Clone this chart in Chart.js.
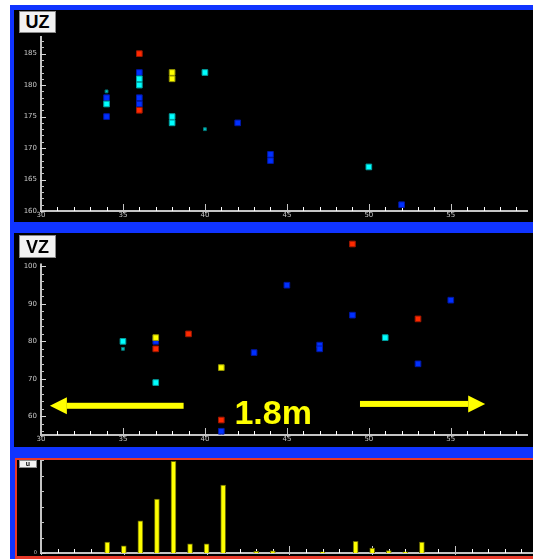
<!DOCTYPE html>
<html>
<head>
<meta charset="utf-8">
<script src="https://cdn.jsdelivr.net/npm/chart.js@4"></script>
<style>
  body { margin: 0; background: #fff; overflow: hidden; width: 533px; height: 559px; position: relative; }
  .frame { position: absolute; left: 10px; top: 5px; width: 530px; height: 560px; background: #1034ff; }
  .panel { position: absolute; background: #000; }
  .panel canvas { position: absolute; left: 0; top: 0; }
  .tag { position: absolute; background: #f2f2f2; border: 1px solid #8a8a8a; box-sizing: border-box;
         font: bold 18px "Liberation Sans", Arial, sans-serif; color: #000; text-align: center; z-index: 2; }
  .boxed { position: absolute; left: 15px; top: 458px; width: 530px; height: 101px; border: 2px solid #e8392a;
           border-bottom-width: 3px; box-sizing: border-box; background: #000; }
</style>
</head>
<body>
<div class="frame"></div>
<div class="panel" style="left:14px;top:10px;width:519px;height:212px">
  <canvas id="uzChart" width="519" height="212"></canvas>
  <div class="tag" style="left:5px;top:1px;width:37px;height:22px;line-height:21px">UZ</div>
</div>
<div class="panel" style="left:14px;top:233px;width:519px;height:214px">
  <canvas id="vzChart" width="519" height="214"></canvas>
  <div class="tag" style="left:5px;top:2px;width:37px;height:23px;line-height:22px">VZ</div>
</div>
<div class="boxed">
  <div class="panel" style="left:0;top:0;width:516px;height:96px">
    <canvas id="uChart" width="516" height="96"></canvas>
    <div class="tag" style="left:2px;top:0;width:18px;height:8px;font-size:7px;line-height:6px">u</div>
  </div>
</div>
<script>
// UZ panel, one list per marker colour
const uzBlueX = [34, 34, 36, 36, 36, 42, 44, 44, 52];
const uzBlueY = [178, 175, 182, 178, 177, 174, 169, 168, 161];
const uzCyanX = [34, 36, 36, 38, 38, 40, 50];
const uzCyanY = [177, 181, 180, 175, 174, 182, 167];
const uzYellowX = [38, 38];
const uzYellowY = [182, 181];
const uzRedX = [36, 36];
const uzRedY = [185, 176];
const uzTealX = [34, 40];
const uzTealY = [179, 173];

// VZ panel
const vzBlueX = [37, 41, 43, 45, 47, 47, 49, 53, 55];
const vzBlueY = [80, 56, 77, 95, 79, 78, 87, 74, 91];
const vzCyanX = [35, 37, 51];
const vzCyanY = [80, 69, 81];
const vzYellowX = [37, 41];
const vzYellowY = [81, 73];
const vzRedX = [37, 39, 41, 49, 53];
const vzRedY = [78, 82, 59, 106, 86];
const vzTealX = [35];
const vzTealY = [78];

// bottom histogram
const barX = [34, 35, 36, 37, 38, 39, 40, 41, 43, 44, 47, 49, 50, 51, 52, 53];
const barY = [35, 23, 103, 173, 294, 29, 29, 218, 5, 7, 4, 37, 16, 8, 4, 35];

// scale ranges (axisTop = where the drawn axis line stops)
const xMin = 30, xMax = 59.71;
const uzMin = 160, uzMax = 187.8, uzAxisTop = 187.8;
const vzMin = 55, vzMax = 107.6, vzAxisTop = 100.8;
const uMin = 0, uMax = 298, uAxisTop = 298;

// distance marker on VZ
const markerText = '1.8m';

Chart.defaults.font.family = '"DejaVu Sans", sans-serif';
Chart.defaults.animation = false;

const pts = (xs, ys) => xs.map((v, i) => ({ x: v, y: ys[i] }));

const axisPlugin = {
  id: 'axes',
  beforeDatasetsDraw(chart, args, opts) {
    const { ctx, chartArea: a, scales: { x, y } } = chart;
    const top = y.getPixelForValue(opts.top);
    ctx.save();
    ctx.strokeStyle = '#c4c4c4';
    ctx.lineWidth = 2;
    ctx.beginPath();
    ctx.moveTo(a.left, top);
    ctx.lineTo(a.left, a.bottom);
    ctx.lineTo(a.right, a.bottom);
    ctx.stroke();
    ctx.lineWidth = 1;
    x.ticks.forEach(t => {
      const px = Math.round(x.getPixelForValue(t.value)) + 0.5;
      const major = t.value % opts.xMajor === 0;
      ctx.strokeStyle = major ? '#c4c4c4' : '#ffffff';
      ctx.beginPath();
      ctx.moveTo(px, a.bottom - (major ? 7 : 4));
      ctx.lineTo(px, a.bottom + (major ? 2 : 0));
      ctx.stroke();
    });
    y.ticks.forEach(t => {
      if (t.value > opts.top) return;
      const py = Math.round(y.getPixelForValue(t.value)) + 0.5;
      const major = t.value % opts.yMajor === 0;
      ctx.strokeStyle = major ? '#d8d8d8' : '#c4c4c4';
      ctx.beginPath();
      ctx.moveTo(a.left - (major ? 1 : 0), py);
      ctx.lineTo(a.left + (major ? opts.majorLen : 3), py);
      ctx.stroke();
    });
    ctx.restore();
  }
};

const markerPlugin = {
  id: 'marker',
  afterDatasetsDraw(chart) {
    const { ctx, scales: { x, y } } = chart;
    ctx.save();
    ctx.fillStyle = '#ffff00';
    const arrow = (fromV, toV, yV) => {
      const x0 = x.getPixelForValue(fromV), x1 = x.getPixelForValue(toV), py = y.getPixelForValue(yV);
      const dir = Math.sign(x1 - x0);
      const hx = x1 - dir * 17;
      ctx.fillRect(Math.min(x0, hx), py - 3, Math.abs(hx - x0), 6);
      ctx.beginPath();
      ctx.moveTo(x1, py);
      ctx.lineTo(hx, py - 8.5);
      ctx.lineTo(hx, py + 8.5);
      ctx.closePath();
      ctx.fill();
    };
    arrow(38.7, 30.54, 62.8);
    arrow(49.46, 57.1, 63.3);
    ctx.font = 'bold 34px "Liberation Sans", Arial, sans-serif';
    ctx.textBaseline = 'alphabetic';
    ctx.fillText(markerText, x.getPixelForValue(41.8), y.getPixelForValue(58));
    ctx.restore();
  }
};

function xAxis(height, showLabels) {
  return {
    type: 'linear', min: xMin, max: xMax, offset: false,
    grid: { display: false, drawTicks: false }, border: { display: false },
    ticks: { stepSize: 1, includeBounds: false, autoSkip: false, maxRotation: 0, padding: 0,
             display: showLabels, color: '#c8c8c8', font: { size: 7 },
             callback: v => (v % 5 === 0 ? v : '') },
    afterFit: s => { s.height = height; s.paddingLeft = 0; s.paddingRight = 0; }
  };
}

function yAxis(min, max, top, step, major, width, fontSize) {
  return {
    type: 'linear', min: min, max: max,
    grid: { display: false, drawTicks: false }, border: { display: false },
    ticks: { stepSize: step, includeBounds: false, autoSkip: false, padding: 4,
             color: '#c8c8c8', font: { size: fontSize },
             callback: v => (v % major === 0 && v <= top ? v : '') },
    afterFit: s => { s.width = width; s.paddingTop = 0; s.paddingBottom = 0; }
  };
}

function dot(label, xs, ys, fill, edge, r) {
  return { label, data: pts(xs, ys), backgroundColor: fill, borderColor: edge, borderWidth: 1,
           pointStyle: 'rect', pointRadius: r, clip: false };
}

function scatterOpts(yScale, xHeight, padTop, yMajor, top) {
  return {
    responsive: false,
    layout: { padding: { top: padTop, right: 0, left: 0, bottom: 0 } },
    scales: { x: xAxis(xHeight, true), y: yScale },
    plugins: { legend: { display: false }, tooltip: { enabled: false },
               axes: { xMajor: 5, yMajor: yMajor, majorLen: 5, top: top } }
  };
}

new Chart(document.getElementById('uzChart'), {
  type: 'scatter',
  data: { datasets: [
    dot('yellow', uzYellowX, uzYellowY, '#ffff00', '#9a9a00', 4),
    dot('red', uzRedX, uzRedY, '#ff2a00', '#a01800', 4),
    dot('teal', uzTealX, uzTealY, '#00c8c8', '#007878', 2),
    dot('cyan', uzCyanX, uzCyanY, '#00ffff', '#00a0a0', 4),
    dot('blue', uzBlueX, uzBlueY, '#0030ff', '#0018a8', 4)
  ] },
  options: scatterOpts(yAxis(uzMin, uzMax, uzAxisTop, 1, 5, 27, 7), 11, 26, 5, uzAxisTop),
  plugins: [axisPlugin]
});

new Chart(document.getElementById('vzChart'), {
  type: 'scatter',
  data: { datasets: [
    dot('yellow', vzYellowX, vzYellowY, '#ffff00', '#9a9a00', 4),
    dot('red', vzRedX, vzRedY, '#ff2a00', '#a01800', 4),
    dot('teal', vzTealX, vzTealY, '#00c8c8', '#007878', 2),
    dot('cyan', vzCyanX, vzCyanY, '#00ffff', '#00a0a0', 4),
    dot('blue', vzBlueX, vzBlueY, '#0030ff', '#0018a8', 4)
  ] },
  options: scatterOpts(yAxis(vzMin, vzMax, vzAxisTop, 2, 10, 27, 7), 12, 2, 10, vzAxisTop),
  plugins: [axisPlugin, markerPlugin]
});

new Chart(document.getElementById('uChart'), {
  type: 'bar',
  data: { datasets: [{ label: 'u', data: pts(barX, barY), backgroundColor: '#ffff00', borderColor: '#6a6a00',
                       borderWidth: 1, barThickness: 5 }] },
  options: {
    responsive: false,
    layout: { padding: 0 },
    scales: { x: xAxis(3, false), y: yAxis(uMin, uMax, uAxisTop, 50, 50, 24, 5) },
    plugins: { legend: { display: false }, tooltip: { enabled: false },
               axes: { xMajor: 5, yMajor: 50, majorLen: 5, top: uAxisTop } }
  },
  plugins: [axisPlugin]
});
</script>
</body>
</html>
